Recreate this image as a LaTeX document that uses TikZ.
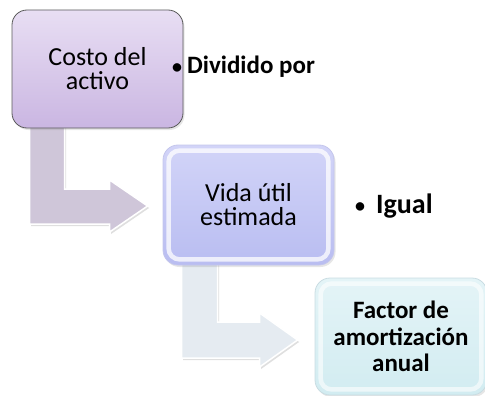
\documentclass[tikz,border=0pt]{standalone}
\usepackage{fontspec}
\setmainfont{Carlito}
\usetikzlibrary{positioning,calc,shadows,backgrounds}

\definecolor{costtop}{HTML}{E8DEF3}
\definecolor{costbot}{HTML}{CAB6E2}
\definecolor{costline}{HTML}{5A5A5A}
\definecolor{vidatop}{HTML}{D2D4F8}
\definecolor{vidabot}{HTML}{B9BDF1}
\definecolor{vidaline}{HTML}{C4C6EC}
\definecolor{facttop}{HTML}{E4F4F7}
\definecolor{factbot}{HTML}{D2ECF1}
\definecolor{factline}{HTML}{C9DCE2}
\definecolor{arrowA}{HTML}{CFC6D9}
\definecolor{arrowB}{HTML}{E5EBF1}

\newcommand{\smallbul}{\raisebox{0.5pt}{\fontsize{20}{20}\selectfont •}}

\tikzset{
  box/.style={rounded corners=15pt, minimum width=171pt, minimum height=118pt,
    align=center, inner sep=0pt, font=\fontsize{26}{24}\selectfont,
    drop shadow={opacity=0.2, shadow xshift=1.5pt, shadow yshift=-2pt}},
  bentarrow/.style={draw=white, line width=1.5pt, line join=miter,
    drop shadow={opacity=0.25, shadow xshift=1.5pt, shadow yshift=-2pt}},
  rim/.style={white, line width=4.5pt, opacity=0.75, rounded corners=11pt},
  bulletitem/.style={anchor=base west, inner sep=0pt, font=\bfseries\fontsize{25}{24}\selectfont}
}

\begin{document}
\begin{tikzpicture}[x=1pt,y=-1pt]
\useasboundingbox (0,0) rectangle (485,396);

% boxes
\node[box, draw=costline, line width=0.8pt, top color=costtop, bottom color=costbot] (cost) at (97.5,69) {Costo del\\activo};
\node[box, minimum height=120pt, draw=vidaline, line width=0.8pt, top color=vidatop, bottom color=vidabot] (vida) at (248.5,205) {Vida útil\\estimada};
\node[box, minimum width=172pt, minimum height=117pt, draw=factline, line width=0.8pt, top color=facttop, bottom color=factbot,
  font=\bfseries\fontsize{25}{26.5}\selectfont] (factor) at (401,336.5) {Factor de\\amortización\\anual};

% glossy rims
\draw[rim] ($(vida.south west)+(6,-6)$) rectangle ($(vida.north east)+(-6,6)$);
\draw[rim, opacity=0.6] ($(factor.south west)+(6,-6)$) rectangle ($(factor.north east)+(-6,6)$);

% bent arrows, behind the boxes
\begin{pgfonlayer}{background}
\coordinate (s1) at ($(cost.south west)+(18,-4)$);
\coordinate (t1) at ($(vida.west)+(-15,1)$);
\draw[bentarrow, fill=arrowA] (s1) -- ++(35,0) |- ($(t1)+(-38,-17)$) -- ($(t1)+(-38,-26)$) -- (t1)
  -- ($(t1)+(-38,26)$) -- ($(t1)+(-38,18)$) -| (s1) -- cycle;

\coordinate (s2) at ($(vida.south west)+(19,-4)$);
\coordinate (t2) at ($(factor.west)+(-17,3.5)$);
\draw[bentarrow, fill=arrowB] (s2) -- ++(36,0) |- ($(t2)+(-38,-18)$) -- ($(t2)+(-38,-27)$) -- (t2)
  -- ($(t2)+(-38,27)$) -- ($(t2)+(-38,18)$) -| (s2) -- cycle;
\end{pgfonlayer}

% bullet texts
\node[bulletitem] (div) at (172,74) {\smallbul\hspace{5pt}Dividido por};
\node[bulletitem, font=\bfseries\fontsize{28}{24}\selectfont] (igual) at (355,213) {\smallbul\hspace{11pt}Igual};
\end{tikzpicture}
\end{document}
